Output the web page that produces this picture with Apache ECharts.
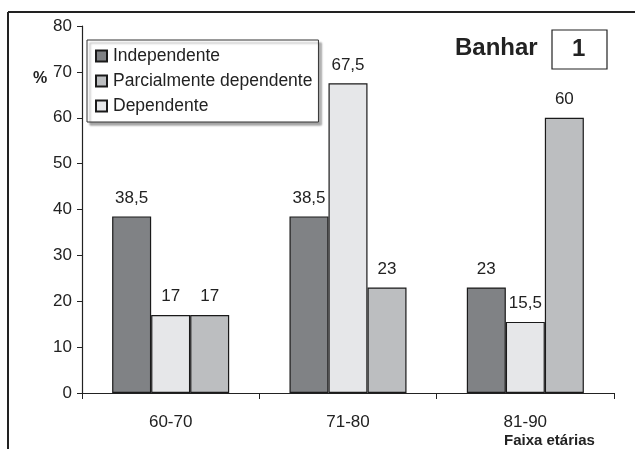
<!DOCTYPE html>
<html>
<head>
<meta charset="utf-8">
<script src="https://cdn.jsdelivr.net/npm/echarts@6/dist/echarts.min.js"></script>
<style>
  html, body { margin: 0; padding: 0; background: #fff; }
  #chart { width: 635px; height: 449px; }
</style>
</head>
<body>
<div id="chart"></div>
<script>
// Age groups and percentages per dependency level for bathing ("Banhar")
var categories = ['60-70', '71-80', '81-90'];
var independente = [38.5, 38.5, 23];
var dependente = [17, 67.5, 15.5];
var parcial = [17, 23, 60];
var yTicks = [0, 10, 20, 30, 40, 50, 60, 70, 80];

var FONT = 'Liberation Sans, Arial, sans-serif';
var chart = echarts.init(document.getElementById('chart'), null, { renderer: 'canvas' });

function fmt(p) { return String(p.value).replace('.', ','); }

function barSeries(name, data, color) {
  return {
    name: name,
    type: 'bar',
    data: data,
    barGap: '0%',
    barCategoryGap: '34%',
    itemStyle: { color: color, borderColor: '#1a1a1a', borderWidth: 1.2 },
    label: {
      show: true, position: 'top', distance: 10,
      formatter: fmt, fontFamily: FONT, fontSize: 17, color: '#222'
    }
  };
}

chart.setOption({
  animation: false,
  backgroundColor: '#fff',
  grid: { left: 82, right: 21, top: 26, bottom: 56 },
  legend: {
    data: ['Independente', 'Parcialmente dependente', 'Dependente'],
    orient: 'vertical',
    left: 87, top: 40,
    padding: [7, 6, 7, 8],
    itemGap: 7,
    itemWidth: 11, itemHeight: 11,
    icon: 'rect',
    backgroundColor: '#fff',
    borderColor: '#333', borderWidth: 1,
    shadowColor: 'rgba(0,0,0,0.35)', shadowBlur: 2, shadowOffsetX: 3, shadowOffsetY: 3,
    textStyle: { fontFamily: FONT, fontSize: 17.5, color: '#222', padding: [0, 0, 0, 1] },
    selectedMode: false
  },
  xAxis: {
    type: 'category',
    data: categories,
    boundaryGap: true,
    axisLine: { lineStyle: { color: '#222', width: 1.2 } },
    axisTick: { show: true, length: 6, inside: false, lineStyle: { color: '#222' } },
    axisLabel: { fontFamily: FONT, fontSize: 17, color: '#222', margin: 21 }
  },
  yAxis: {
    type: 'value',
    min: yTicks[0], max: yTicks[yTicks.length - 1], interval: 10,
    axisLine: { show: true, lineStyle: { color: '#222', width: 1.2 } },
    axisTick: { show: true, length: 5, lineStyle: { color: '#222' } },
    splitLine: { show: false },
    axisLabel: { fontFamily: FONT, fontSize: 17, color: '#222', margin: 10 }
  },
  series: [
    barSeries('Independente', independente, '#808285'),
    barSeries('Dependente', dependente, '#e6e7e9'),
    barSeries('Parcialmente dependente', parcial, '#bcbec0')
  ],
  graphic: [
    // outer frame (top and left edges)
    { type: 'line', shape: { x1: 8, y1: 12, x2: 635, y2: 12 }, style: { stroke: '#222', lineWidth: 2 } },
    { type: 'line', shape: { x1: 8, y1: 12, x2: 8, y2: 449 }, style: { stroke: '#222', lineWidth: 2 } },
    { type: 'text', left: 33, top: 71, style: { text: '%', font: 'bold 16px ' + FONT, fill: '#222' } },
    { type: 'text', left: 455, top: 36, style: { text: 'Banhar', font: 'bold 24px ' + FONT, fill: '#222' } },
    { type: 'rect', shape: { x: 552, y: 30, width: 55, height: 39 }, style: { fill: '#fff', stroke: '#222', lineWidth: 1.2 } },
    { type: 'text', left: 572, top: 37, style: { text: '1', font: 'bold 24px ' + FONT, fill: '#222' } },
    { type: 'text', left: 504, top: 433, style: { text: 'Faixa etárias', font: 'bold 15px ' + FONT, fill: '#222' } }
  ]
});
</script>
</body>
</html>
